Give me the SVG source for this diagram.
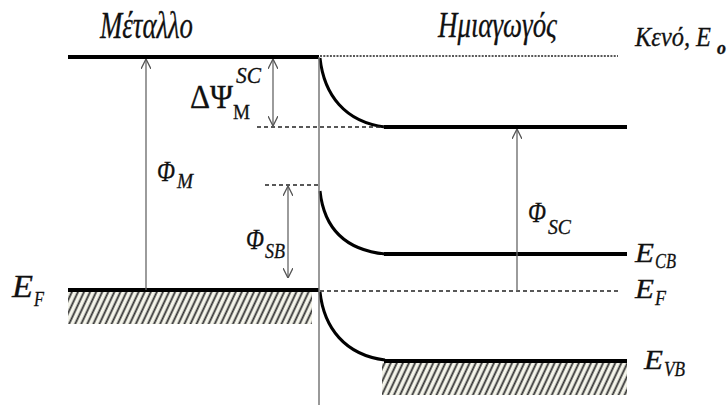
<svg xmlns="http://www.w3.org/2000/svg" width="727" height="405" viewBox="0 0 727 405">
<style>
.t{font-family:"Liberation Serif","Times New Roman",serif;font-style:italic;fill:#111;stroke:#111;stroke-width:0.3}
.u{font-family:"Liberation Serif","Times New Roman",serif;fill:#111;stroke:#111;stroke-width:0.3}
.band{stroke:#000;stroke-width:4;fill:none}
.curve{stroke:#000;stroke-width:3;fill:none}
.dash{stroke:#222;stroke-width:1.3;stroke-dasharray:4,3;fill:none}
.dot{stroke:#222;stroke-width:1.5;stroke-dasharray:2,1.3;fill:none}
.arr{stroke:#666;stroke-width:1.3;fill:none}
</style>
<defs>
<pattern id="hatch" patternUnits="userSpaceOnUse" width="5.5" height="12" patternTransform="rotate(25)">
<rect width="5.5" height="12" fill="#f4f4ea"/>
<line x1="1.5" y1="0" x2="1.5" y2="12" stroke="#333" stroke-width="1.8"/>
</pattern>
<marker id="ah" viewBox="0 0 10 10" refX="10" refY="5" markerWidth="10" markerHeight="10" markerUnits="userSpaceOnUse" orient="auto-start-reverse">
<path d="M0,0 L10,5 L0,10" fill="none" stroke="#555" stroke-width="1.3"/>
</marker>
</defs>
<g id="metal">
<rect x="68" y="292" width="244" height="32" fill="url(#hatch)"/>
<line class="band" x1="68" y1="57" x2="319" y2="57"/>
<line class="band" x1="68" y1="290" x2="319" y2="290"/>
</g>
<g id="semiconductor">
<rect x="382" y="363" width="245" height="32" fill="url(#hatch)"/>
<path class="curve" d="M320,58 C324,95 345,122 385,127"/>
<line class="band" x1="384" y1="127" x2="627" y2="127"/>
<path class="curve" d="M320,191 C324,228 345,250 385,254"/>
<line class="band" x1="384" y1="254" x2="627" y2="254"/>
<path class="curve" d="M320,292 C324,328 345,355 385,360"/>
<line class="band" x1="384" y1="361" x2="627" y2="361"/>
</g>
<g id="guides">
<line x1="319" y1="57" x2="319" y2="405" stroke="#777" stroke-width="1.5"/>
<line class="dot" x1="320" y1="56" x2="618" y2="56"/>
<line class="dash" x1="257" y1="127" x2="384" y2="127"/>
<line class="dash" x1="265" y1="185" x2="318" y2="185"/>
<line class="dash" x1="320" y1="291" x2="618" y2="291"/>
</g>
<g id="connectors">
<line class="arr" x1="146" y1="290" x2="146" y2="59" marker-end="url(#ah)"/>
<line class="arr" x1="273" y1="59" x2="273" y2="126" marker-start="url(#ah)" marker-end="url(#ah)"/>
<line class="arr" x1="288" y1="186" x2="288" y2="278" marker-start="url(#ah)" marker-end="url(#ah)"/>
<line class="arr" x1="517" y1="291" x2="517" y2="129" marker-end="url(#ah)"/>
</g>
<g id="labels">
<text class="t" x="100" y="38" font-size="37" textLength="93" lengthAdjust="spacingAndGlyphs">Μέταλλο</text>
<text class="t" x="438" y="37" font-size="36" textLength="119" lengthAdjust="spacingAndGlyphs">Ημιαγωγός</text>
<text class="t" font-size="28"><tspan x="635" y="46" textLength="76" lengthAdjust="spacingAndGlyphs">Κενό, E</tspan><tspan x="717" y="54" font-size="18" font-weight="bold">o</tspan></text>
<text class="u" font-size="34"><tspan x="190" y="108" textLength="43" lengthAdjust="spacingAndGlyphs">ΔΨ</tspan><tspan x="236" y="83" font-size="23" font-style="italic" textLength="25" lengthAdjust="spacingAndGlyphs">SC</tspan><tspan x="233" y="119" font-size="22" textLength="17" lengthAdjust="spacingAndGlyphs">M</tspan></text>
<text class="t" font-size="30"><tspan x="157" y="181" textLength="18" lengthAdjust="spacingAndGlyphs">Φ</tspan><tspan x="177" y="188" font-size="21" textLength="16" lengthAdjust="spacingAndGlyphs">M</tspan></text>
<text class="t" font-size="30"><tspan x="246" y="249" textLength="18" lengthAdjust="spacingAndGlyphs">Φ</tspan><tspan x="265" y="258" font-size="21" textLength="20" lengthAdjust="spacingAndGlyphs">SB</tspan></text>
<text class="t" font-size="30"><tspan x="528" y="222" textLength="18" lengthAdjust="spacingAndGlyphs">Φ</tspan><tspan x="548" y="234" font-size="21" textLength="23" lengthAdjust="spacingAndGlyphs">SC</tspan></text>
<text class="t" font-size="32"><tspan x="12" y="297" textLength="21" lengthAdjust="spacingAndGlyphs">E</tspan><tspan x="34" y="306" font-size="21" textLength="10" lengthAdjust="spacingAndGlyphs">F</tspan></text>
<text class="t" font-size="28"><tspan x="635" y="262" textLength="19" lengthAdjust="spacingAndGlyphs">E</tspan><tspan x="655" y="268" font-size="21" textLength="21" lengthAdjust="spacingAndGlyphs">CB</tspan></text>
<text class="t" font-size="28"><tspan x="635" y="298" textLength="19" lengthAdjust="spacingAndGlyphs">E</tspan><tspan x="655" y="305" font-size="21" textLength="11" lengthAdjust="spacingAndGlyphs">F</tspan></text>
<text class="t" font-size="28"><tspan x="644" y="369" textLength="19" lengthAdjust="spacingAndGlyphs">E</tspan><tspan x="664" y="376" font-size="21" textLength="21" lengthAdjust="spacingAndGlyphs">VB</tspan></text>
</g>
</svg>
